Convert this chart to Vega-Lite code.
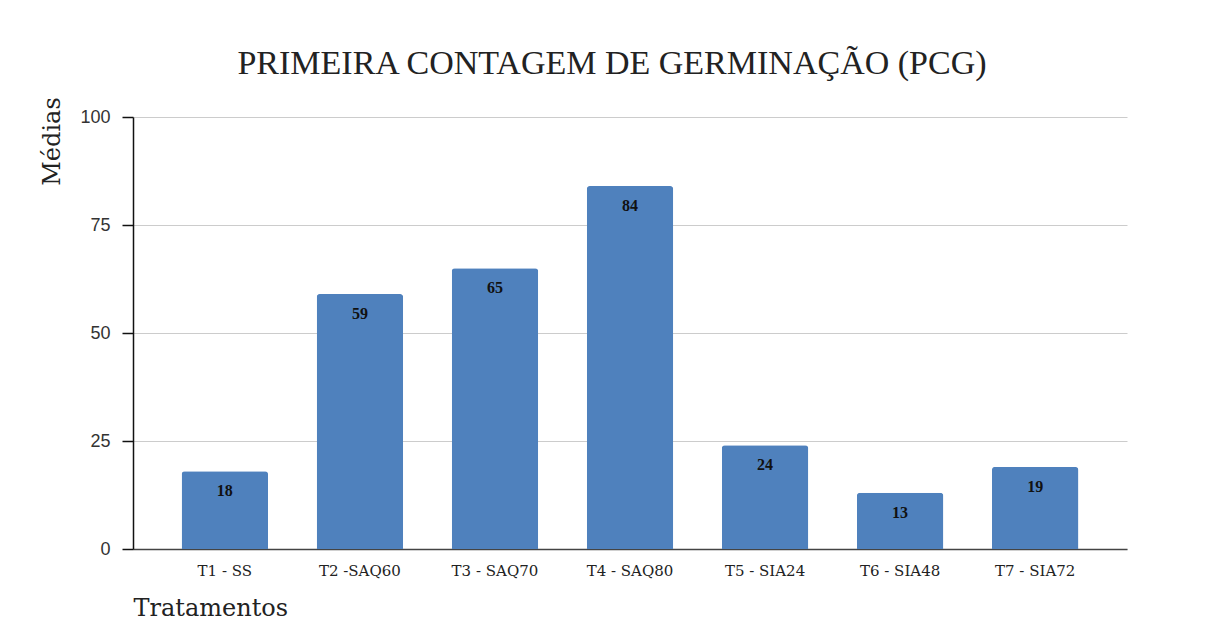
{
  "$schema": "https://vega.github.io/schema/vega-lite/v6.json",
  "autosize": "none",
  "width": 994,
  "height": 432,
  "padding": {"left": 133, "top": 117, "right": 82, "bottom": 79},
  "background": "#ffffff",
  "title": {
    "text": "PRIMEIRA CONTAGEM DE GERMINAÇÃO (PCG)",
    "font": "Liberation Serif",
    "fontSize": 34,
    "fontWeight": "normal",
    "color": "#222222",
    "anchor": "middle",
    "offset": 16,
    "dx": -18
  },
  "data": {
    "values": [
      {"tratamento": "T1 - SS", "media": 18},
      {"tratamento": "T2 -SAQ60", "media": 59},
      {"tratamento": "T3 - SAQ70", "media": 65},
      {"tratamento": "T4 - SAQ80", "media": 84},
      {"tratamento": "T5 - SIA24", "media": 24},
      {"tratamento": "T6 - SIA48", "media": 13},
      {"tratamento": "T7 - SIA72", "media": 19}
    ]
  },
  "config": {"view": {"stroke": null}},
  "encoding": {
    "x": {
      "field": "tratamento",
      "type": "nominal",
      "sort": null,
      "scale": {"paddingInner": 0.36, "paddingOuter": 0.36},
      "axis": {
        "title": "Tratamentos",
        "titleFont": "DejaVu Serif",
        "titleFontSize": 24,
        "titleFontWeight": "normal",
        "titleColor": "#222222",
        "titleX": 0,
        "titleY": 59,
        "titleAlign": "left",
        "titleBaseline": "middle",
        "labelAngle": 0,
        "labelFont": "DejaVu Serif",
        "labelFontSize": 15,
        "labelColor": "#222222",
        "labelPadding": 14,
        "ticks": false,
        "domainColor": "#444444",
        "domainWidth": 1.5,
        "grid": false
      }
    },
    "y": {
      "field": "media",
      "type": "quantitative",
      "scale": {"domain": [0, 100]},
      "axis": {
        "values": [0, 25, 50, 75, 100],
        "title": "Médias",
        "titleFont": "DejaVu Serif",
        "titleFontSize": 24,
        "titleFontWeight": "normal",
        "titleColor": "#222222",
        "titleX": -81,
        "titleY": 24,
        "titleAngle": -90,
        "titleAlign": "center",
        "titleBaseline": "middle",
        "labelFont": "Liberation Sans",
        "labelFontSize": 18,
        "labelColor": "#333333",
        "labelPadding": 12,
        "tickSize": 11,
        "tickColor": "#111111",
        "tickWidth": 1.5,
        "domainColor": "#111111",
        "domainWidth": 1.5,
        "gridColor": "#cccccc",
        "gridWidth": 1
      }
    }
  },
  "layer": [
    {
      "mark": {"type": "bar", "color": "#4f81bd", "cornerRadiusTopLeft": 3, "cornerRadiusTopRight": 3}
    },
    {
      "mark": {
        "type": "text",
        "font": "Liberation Serif",
        "fontWeight": "bold",
        "fontSize": 16,
        "color": "#111111",
        "baseline": "middle",
        "dy": 20
      },
      "encoding": {
        "text": {"field": "media", "type": "quantitative"}
      }
    }
  ]
}
